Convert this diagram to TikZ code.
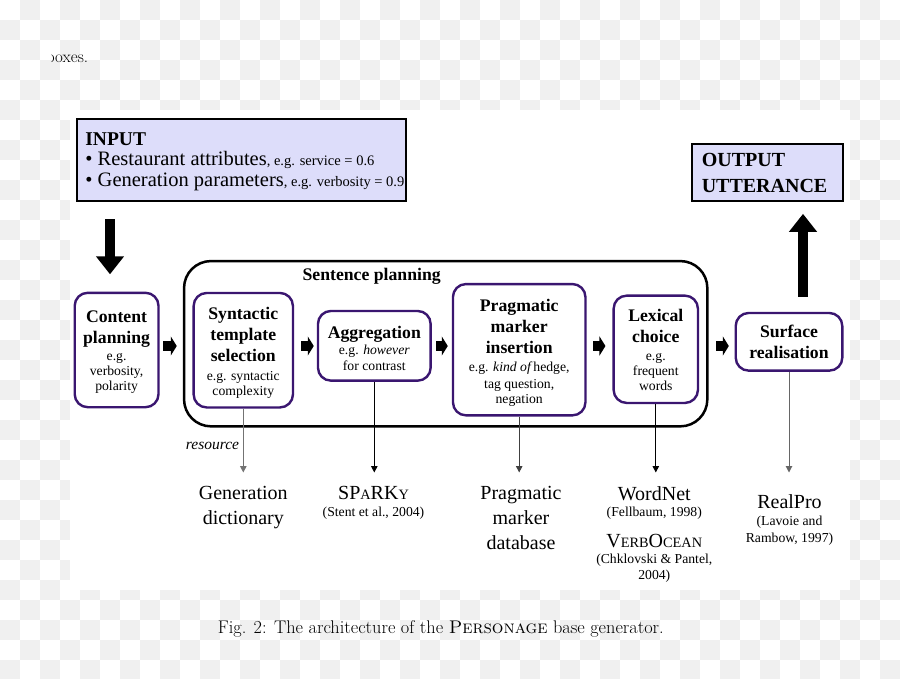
\documentclass[tikz,border=0pt]{standalone}
\usepackage{fontspec}
\newfontfamily\tms{Liberation Serif}
\usetikzlibrary{arrows.meta}
\definecolor{purp}{RGB}{58,22,112}
\definecolor{lav}{RGB}{221,221,250}
\definecolor{chk}{RGB}{240,240,240}
\newcommand\ttl{\tms\fontsize{17.7}{21}\selectfont\bfseries}
\newcommand\sml{\tms\fontsize{13.7}{15}\selectfont}
\newcommand\rbig{\tms\fontsize{20}{24.7}\selectfont}
\newcommand\rsm{\tms\fontsize{13.7}{16}\selectfont}
\newcommand\fsc[1]{{\fontsize{14.3}{16}\selectfont #1}}
\newcommand\up[1]{\rule{0pt}{#1}}
\begin{document}
\begin{tikzpicture}[x=1pt,y=-1pt,
  stage/.style={draw=purp, line width=2.4pt, rounded corners=13pt, fill=white, align=center, inner sep=0pt, font=\tms\fontsize{13.7}{21}\selectfont},
  spbox/.style={draw=black, line width=2.5pt, rounded corners=27pt},
  iobox/.style={draw=black, line width=1.7pt, fill=lav, inner sep=0pt},
  res/.style={align=center, inner sep=0pt, anchor=north},
  blk/.style={line width=10pt, -{Triangle[length=6pt,width=19pt]}},
  bigarrow/.style={line width=9.5pt, -{Triangle[length=18pt,width=27pt]}},
  rline/.style={line width=1pt, -{Triangle[length=6.5pt,width=6.5pt]}}]
\useasboundingbox (0,0) rectangle (900,678);
\clip (0,0) rectangle (900,678);
% checkerboard background
\foreach \j in {0,...,33}{
  \pgfmathtruncatemacro\off{1-mod(\j,2)}
  \foreach \k in {0,...,22}{
    \fill[chk] ({40*\k+20*\off},{20*\j}) rectangle ++(20,20);
  }
}
\fill[white] (70,110) rectangle (850,590);
% clipped text fragment
\begin{scope}
\clip (51.7,0) rectangle (900,100);
\node[anchor=base east, font=\fontsize{17}{20}\selectfont, inner sep=0pt] (bx) at (88.3,62.7) {boxes.};
\end{scope}

% input / output
\node[iobox, minimum width=329pt, minimum height=82pt] (inp) at (241.7,160.2) {};
\node[anchor=north west, align=left, inner sep=0pt, font=\tms\fontsize{20.5}{20.5}\selectfont] (inpt) at (85.2,132.1)
 {\bfseries\fontsize{19.5}{20}\selectfont INPUT\\
  \textbullet{} Restaurant attributes{\fontsize{14.5}{15}\selectfont, e.g. service = 0.6}\\
  \textbullet{} Generation parameters{\fontsize{14.5}{15}\selectfont, e.g. verbosity = 0.9}};
\node[iobox, align=left, inner xsep=10pt, text width=130.9pt, minimum height=57.6pt, font=\tms\bfseries\fontsize{20}{26}\selectfont] (out) at (767.2,172.5) {OUTPUT\\UTTERANCE};

% sentence planning frame
\node[spbox, minimum width=523.3pt, minimum height=165.3pt] (spb) at (445.7,343.7) {};
\node[font=\ttl, anchor=base, inner sep=0pt] (spl) at (371.7,280.7) {Sentence planning};

% stages
\node[stage, minimum width=83.8pt, minimum height=114.4pt] (cp) at (116.6,350)
 {\ttl\up{16.1pt}Content\\\ttl planning\\[-4pt]\sml e.g.\\[-6pt]\sml verbosity,\\[-6pt]\sml polarity};
\node[stage, minimum width=99.3pt, minimum height=114.5pt] (sts) at (243.3,350.2)
 {\ttl\up{18.1pt}Syntactic\\\ttl template\\\ttl selection\\[-2pt]\sml e.g. syntactic\\[-6pt]\sml complexity};
\node[stage, minimum width=112.7pt, minimum height=69.7pt] (agg) at (374.3,345.8)
 {\ttl\up{17.5pt}Aggregation\\[-5.3pt]\sml e.g. \textit{however}\\[-5pt]\sml for contrast};
\node[stage, minimum width=132.5pt, minimum height=131.3pt] (pmi) at (519.2,349.7)
 {\ttl\up{18.9pt}Pragmatic\\\ttl marker\\\ttl insertion\\[-3.3pt]\sml e.g. \textit{kind of}\kern1pt hedge,\\[-4.3pt]\sml tag question,\\[-5.4pt]\sml negation};
\node[stage, minimum width=84.3pt, minimum height=107.3pt] (lc) at (655.8,349.3)
 {\ttl\up{14.1pt}Lexical\\\ttl choice\\[-3pt]\sml e.g.\\[-6pt]\sml frequent\\[-6pt]\sml words};
\node[stage, minimum width=106.6pt, minimum height=57.7pt] (sr) at (789,341.8)
 {\ttl Surface\\\ttl realisation};

% big arrows
\coordinate (dx) at (110,0);
\coordinate (ux) at (803,0);
\draw[bigarrow, shorten <=17pt, shorten >=17.3pt] (inp.south -| dx) -- (cp.north -| dx);
\draw[bigarrow, shorten <=15pt, shorten >=11.7pt] (sr.north -| ux) -- (out.south -| ux);

% block arrows between stages
\coordinate (ay) at (0,346);
\draw[blk, shorten <=3.5pt, shorten >=15.7pt] (cp.east |- ay) -- (sts.west |- ay);
\draw[blk, shorten <=7pt, shorten >=3pt] (sts.east |- ay) -- (agg.west |- ay);
\draw[blk, shorten <=4.3pt, shorten >=4pt] (agg.east |- ay) -- (pmi.west |- ay);
\draw[blk, shorten <=6.8pt, shorten >=7pt] (pmi.east |- ay) -- (lc.west |- ay);
\draw[blk, shorten <=17pt, shorten >=5.7pt] (lc.east |- ay) -- (sr.west |- ay);

% resources
\node[res, font=\rbig] (gd) at (243.3,486.3) {Generation\\dictionary};
\node[res, font=\tms\fontsize{20}{16.5}\selectfont] (spk) at (373.5,486.3) {SP\fsc{A}RK\fsc{Y}\\\rsm (Stent et al., 2004)};
\node[res, font=\rbig] (pmd) at (521,486.3) {Pragmatic\\marker\\database};
\node[res, font=\tms\fontsize{20}{16}\selectfont] (wn) at (654.3,486.3)
 {WordNet\\\rsm (Fellbaum, 1998)\\[14pt]V\fsc{ERB}O\fsc{CEAN}\\\rsm (Chklovski \& Pantel,\\\rsm 2004)};
\node[res, font=\tms\fontsize{20}{16.7}\selectfont] (rp) at (789.5,494.6) {RealPro\\\rsm (Lavoie and\\\rsm Rambow, 1997)};

\coordinate (ry) at (0,472.5);
\draw[rline, black!55] (sts.south) -- (sts.south |- ry);
\draw[rline, black] (agg.south) -- (agg.south |- ry);
\draw[rline, black!75] (pmi.south) -- (pmi.south |- ry);
\draw[rline, black] (lc.south) -- (lc.south |- ry);
\draw[rline, black!60] (sr.south) -- (sr.south |- ry);
\node[anchor=base, inner sep=0pt, font=\tms\itshape\fontsize{15.5}{18}\selectfont] (rlab) at (212.5,449.3) {resource};

% caption
\node[font=\fontsize{18.3}{20}\selectfont, anchor=base, inner sep=0pt] (cap) at (440.8,633.3) {Fig. 2: The architecture of the \textsc{Personage} base generator.};
\end{tikzpicture}
\end{document}
